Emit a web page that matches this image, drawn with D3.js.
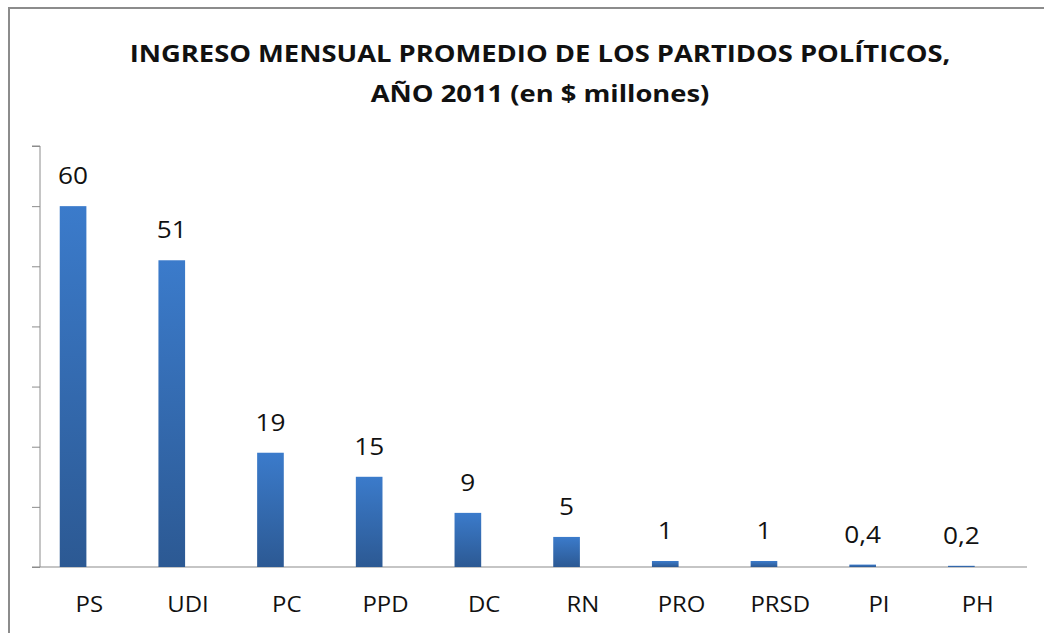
<!DOCTYPE html>
<html>
<head>
<meta charset="utf-8">
<script src="https://cdn.jsdelivr.net/npm/d3@7"></script>
<style>
body { margin: 0; background: #fff; }
</style>
</head>
<body>
<div id="plot"></div>
<script>
partidos = ["PS", "UDI", "PC", "PPD", "DC", "RN", "PRO", "PRSD", "PI", "PH"]
ingresos = [60, 51, 19, 15, 9, 5, 1, 1, 0.4, 0.2]
etiquetas = ["60", "51", "19", "15", "9", "5", "1", "1", "0,4", "0,2"]
yTicks = [0, 10, 20, 30, 40, 50, 60, 70]
titulo = ["INGRESO MENSUAL PROMEDIO DE LOS PARTIDOS POLÍTICOS,", "AÑO 2011 (en $ millones)"]

W = 1044, H = 633
font = "'Open Sans', sans-serif"
stretch = 1.14   // the original text is a bit wider than Open Sans

svg = d3.select("#plot").append("svg").attr("width", W).attr("height", H).attr("viewBox", [0, 0, W, H])

// gradient for bars
grad = svg.append("defs").append("linearGradient").attr("id", "barGrad")
  .attr("x1", 0).attr("y1", 0).attr("x2", 0).attr("y2", 1)
grad.append("stop").attr("offset", "0%").attr("stop-color", "#3b7bcb")
grad.append("stop").attr("offset", "100%").attr("stop-color", "#2c5993")

// chart border
svg.append("rect").attr("x", 9).attr("y", 8).attr("width", W + 20).attr("height", H + 20)
  .attr("fill", "none").attr("stroke", "#8c8c8c").attr("stroke-width", 2)

place = (px, py) => `translate(${px},${py}) scale(${stretch},1)`

svg.append("g").selectAll("text").data(titulo).join("text")
  .attr("transform", (d, i) => place(540, 62 + i * 40))
  .attr("text-anchor", "middle")
  .attr("font-family", font).attr("font-weight", "bold").attr("font-size", 24)
  .attr("fill", "#111")
  .text(d => d)

// category bands span the whole axis; the bar sits left of the band centre
x = d3.scaleBand().domain(partidos).range([40, 1027])
barOff = x.bandwidth() * 0.2, barW = x.bandwidth() * 0.27
y = d3.scaleLinear().domain([0, 70]).range([567, 146])

// y axis (no labels)
yAxis = svg.append("g").attr("transform", "translate(40,0)")
  .call(d3.axisLeft(y).tickValues(yTicks).tickSize(8).tickFormat(""))
yAxis.selectAll("line, path").attr("stroke", "#8c8c8c")
yAxis.select(".domain").attr("d", "M-8," + y(70) + "H0V" + y(0))

// x baseline
svg.append("line").attr("x1", 32).attr("x2", 1027).attr("y1", y(0)).attr("y2", y(0))
  .attr("stroke", "#8c8c8c").attr("stroke-width", 1.2)

svg.append("g").selectAll("rect").data(partidos).join("rect")
  .attr("x", d => x(d) + barOff)
  .attr("y", (d, i) => y(ingresos[i]))
  .attr("width", barW)
  .attr("height", (d, i) => y(0) - y(ingresos[i]))
  .attr("fill", "url(#barGrad)")

svg.append("g").selectAll("text").data(partidos).join("text")
  .attr("transform", (d, i) => place(x(d) + barOff + barW / 2, y(ingresos[i]) - 22))
  .attr("text-anchor", "middle")
  .attr("font-family", font).attr("font-size", 23).attr("fill", "#111")
  .text((d, i) => etiquetas[i])

svg.append("g").selectAll("text").data(partidos).join("text")
  .attr("transform", d => place(x(d) + x.bandwidth() / 2, 612))
  .attr("text-anchor", "middle")
  .attr("font-family", font).attr("font-size", 21).attr("fill", "#111")
  .text(d => d)
</script>
</body>
</html>
